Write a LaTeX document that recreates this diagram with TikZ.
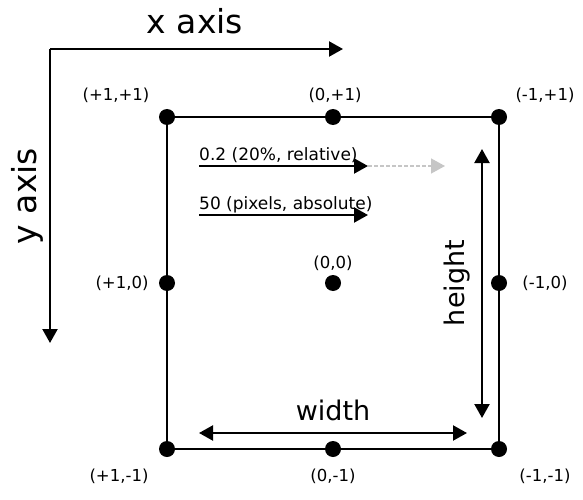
\documentclass[tikz,border=0pt]{standalone}
\usepackage{fontspec}
\setmainfont{DejaVu Sans}
\usetikzlibrary{arrows.meta}
\begin{document}
\begin{tikzpicture}[x=1pt,y=-1pt,
  edge/.style={line width=2.2pt},
  arr/.style={line width=2.2pt,-{Triangle[length=14pt,width=15pt]}},
  darr/.style={line width=2.2pt,{Triangle[length=14pt,width=15pt]}-{Triangle[length=14pt,width=15pt]}},
  dot/.style={circle,fill=black,inner sep=0pt,minimum size=16pt},
  small/.style={font=\fontsize{16.5}{19}\selectfont},
  mid/.style={font=\fontsize{17}{20}\selectfont,anchor=base west,inner sep=0pt},
  big/.style={font=\fontsize{27}{31}\selectfont},
  huge/.style={font=\fontsize{33}{38}\selectfont}]
\useasboundingbox (0,0) rectangle (583,500);
% axes
\coordinate (o) at (50,49);
\coordinate (xe) at (343,49);
\coordinate (ye) at (50,343);
\draw[arr] (o) -- (xe);
\draw[arr] (o) -- (ye);
\node[huge] (xl) at (195,21) {x axis};
\node[huge,rotate=90] (yl) at (27,196) {y axis};
% square
\node[dot] (tl) at (167,117) {};
\node[dot] (tm) at (333,117) {};
\node[dot] (tr) at (499,117) {};
\node[dot] (ml) at (167,283) {};
\node[dot] (mm) at (333,283) {};
\node[dot] (mr) at (499,283) {};
\node[dot] (bl) at (167,449) {};
\node[dot] (bm) at (333,449) {};
\node[dot] (br) at (499,449) {};
\draw[edge] (tl.center) -- (tr.center) -- (br.center) -- (bl.center) -- cycle;
% labels
\node[small] (ltl) at (116,95) {(+1,+1)};
\node[small] (ltm) at (335,95) {(0,+1)};
\node[small] (ltr) at (545,95) {(-1,+1)};
\node[small] (lml) at (122,283) {(+1,0)};
\node[small] (lmm) at (333,263) {(0,0)};
\node[small] (lmr) at (545,283) {(-1,0)};
\node[small] (lbl) at (119,476) {(+1,-1)};
\node[small] (lbm) at (333,476) {(0,-1)};
\node[small] (lbr) at (545,476) {(-1,-1)};
% relative / absolute arrows
\coordinate (r0) at (199,166);
\coordinate (r1) at (368,166);
\coordinate (r2) at (445,166);
\draw[line width=1.5pt,dash pattern=on 4pt off 2pt,gray!45,-{Triangle[length=14pt,width=15pt]}] (r1) -- (r2);
\draw[arr] (r0) -- (r1);
\node[mid] (rl) at (199,160) {0.2 (20\%, relative)};
\coordinate (a0) at (199,215);
\coordinate (a1) at (368,215);
\draw[arr] (a0) -- (a1);
\node[mid] (al) at (199,209) {50 (pixels, absolute)};
% height / width
\coordinate (h0) at (482,149);
\coordinate (h1) at (482,418);
\draw[darr] (h0) -- (h1);
\node[big,rotate=90] (hl) at (457,283) {height};
\coordinate (w0) at (199,433);
\coordinate (w1) at (467,433);
\draw[darr] (w0) -- (w1);
\node[big] (wl) at (333,410) {width};
\end{tikzpicture}
\end{document}
